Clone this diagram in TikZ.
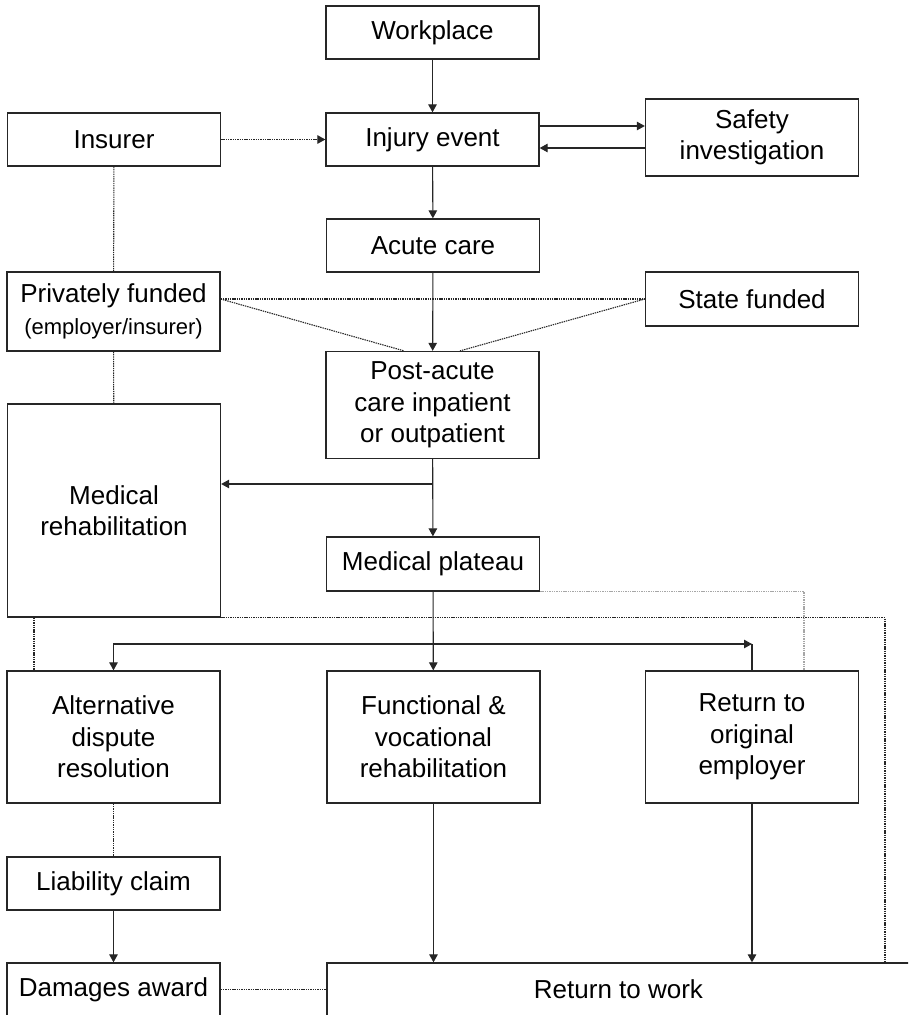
\documentclass[tikz,border=0pt]{standalone}
\usepackage{fontspec}
\setmainfont{Liberation Sans}
\usetikzlibrary{arrows.meta, positioning, calc}

\begin{document}
\begin{tikzpicture}[
    x=1pt, y=-1pt,
    >={Triangle[length=8pt,width=8.5pt]},
    box/.style={draw=black!85, line width=1.3pt, minimum width=213pt, minimum height=#1, inner sep=2pt, align=center, font=\fontsize{26}{31.5}\selectfont},
    box/.default=53pt,
    arrow/.style={->, line width=1.1pt, color=black!85},
    biarrow/.style={<->, line width=1.1pt, color=black!85},
    plain/.style={line width=1.1pt, color=black!85},
    dotline/.style={line width=1.1pt, dash pattern=on 1.4pt off 0.9pt, color=black!85},
    greydot/.style={line width=1.1pt, dash pattern=on 1.4pt off 0.9pt, color=black!35},
]
\clip (0,0) rectangle (908,1015);

% Top row
\node[box] (work) at (432.5, 32.5) {Workplace};
\node[box] (injury) at (432.5, 139.5) {Injury event};
\node[box] (insurer) at (114, 139.5) {Insurer};
\node[box=77pt] (safety) at (752, 137.5) {Safety\\investigation};

% Care and funding
\node[box] (acute) at (433, 245.5) {Acute care};
\node[box=79pt] (private) at (113.5, 311.5) {Privately funded\\{\fontsize{22}{26}\selectfont (employer/insurer)}};
\node[box=54pt] (state) at (752, 299) {State funded};
\node[box=107pt] (postacute) at (432.5, 405) {Post-acute\\care inpatient\\or outpatient};
\node[box=213pt] (medrehab) at (114, 510.5) {Medical\\rehabilitation};
\node[box=54pt] (plateau) at (433, 564) {Medical plateau};

% Outcomes
\node[box=132pt] (adr) at (113.5, 737) {Alternative\\dispute\\resolution};
\node[box=132pt] (func) at (433.5, 737) {Functional \&\\vocational\\rehabilitation};
\node[box=132pt] (reo) at (752, 737) {Return to\\original\\employer};
\node[box] (liability) at (113.5, 883.5) {Liability claim};
\node[box] (damages) at (113.5, 989.5) {Damages award};
\node[box, minimum width=583pt] (rtw) at (618.5, 989.5) {Return to work};

\coordinate (split) at (432.5, 484);
\coordinate (bend) at (752, 644);

% Solid arrows
\draw[arrow] (work) -- (injury);
\draw[arrow] ([yshift=13.5pt]injury.east) -- ([yshift=13.5pt]injury.east -| safety.west);
\draw[arrow] ([yshift=-10.5pt]safety.west) -- ([yshift=-10.5pt]safety.west -| injury.east);
\draw[arrow] (injury) -- (acute);
\draw[arrow] (acute) -- (postacute);
\draw[arrow] (postacute) -- (plateau);
\draw[arrow] (split) -- (split -| medrehab.east);
\draw[arrow] (plateau) -- (func);
\draw[plain] (reo.north) -- (bend);
\draw[biarrow] (adr.north) |- (bend);
\draw[arrow] (func.south) -- (func.south |- rtw.north);
\draw[arrow] (reo.south) -- (reo.south |- rtw.north);
\draw[arrow] (liability) -- (damages);

% Dotted links
\draw[dotline, ->] (insurer) -- (injury);
\draw[dotline] (insurer) -- (private);
\draw[dotline] (private) -- (medrehab);
\draw[dotline] ([yshift=12.5pt]private.east) -- (state.west);
\draw[dotline] ([yshift=12.5pt]private.east) -- ([xshift=-28.5pt]postacute.north);
\draw[dotline] (state.west) -- ([xshift=27.5pt]postacute.north);
\draw[dotline] ([xshift=-80pt]medrehab.south) -- ([xshift=-80pt]medrehab.south |- adr.north);
\draw[dotline] (medrehab.south east) -| ([xshift=266.5pt]rtw.north);
\draw[greydot] (plateau.south east) -| ([xshift=52pt]reo.north);
\draw[dotline] (adr) -- (liability);
\draw[dotline] (damages) -- (rtw);

\end{tikzpicture}
\end{document}
